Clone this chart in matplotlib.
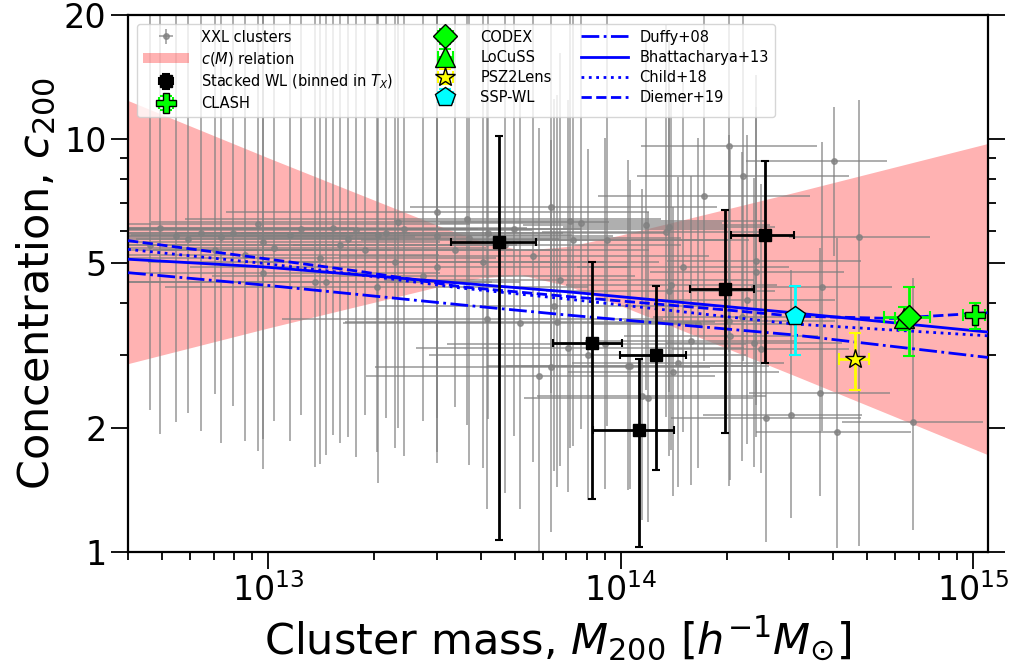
import numpy as np
import matplotlib
matplotlib.use('Agg')
import matplotlib.pyplot as plt
from matplotlib.ticker import FixedLocator, FixedFormatter, NullFormatter

# --- XXL clusters: mass, concentration, errors in dex (lo/hi) ---
xxl_m = np.array([5.48e12, 5.90e12, 6.46e12, 7.33e12, 7.96e12, 9.37e12, 9.68e12, 1.15e13,
                  1.24e13, 1.53e13, 1.68e13, 1.77e13, 2.05e13, 2.16e13, 2.33e13, 2.43e13,
                  3.01e13, 3.00e13, 3.66e13, 4.20e13, 4.99e13, 6.34e13, 7.19e13, 7.30e13,
                  4.06e13, 3.00e13, 2.03e13, 1.36e13, 1.46e13, 9.68e12, 2.75e13,
                  4.62e12, 7.06e12, 8.59e12, 1.04e13, 1.40e13, 1.88e13, 2.29e13, 3.38e13,
                  4.68e13, 4.93e12, 1.60e13, 3.72e13,
                  4.17e13, 5.16e13, 6.47e13, 6.57e13, 7.06e13, 5.85e13, 6.34e13, 6.73e13,
                  5.62e13, 8.05e13, 1.05e14, 9.04e13,
                  2.03e14, 2.22e14, 1.72e14, 4.02e14, 1.18e14, 1.37e14, 1.34e14, 7.71e13,
                  9.16e13, 1.50e14, 2.41e14, 2.42e14, 4.75e14, 1.39e14, 1.37e14, 2.28e14,
                  2.03e14, 2.20e14, 1.65e14, 2.04e14, 1.58e14, 2.39e14, 2.49e14, 3.71e14,
                  1.06e14, 1.45e14, 1.41e14, 1.15e14, 1.19e14, 3.66e14, 2.58e14, 3.04e14,
                  4.10e14, 6.73e14])
xxl_c = np.array([5.83, 5.72, 5.94, 5.81, 5.94, 6.23, 5.65, 5.86,
                  6.05, 6.09, 5.72, 6.03, 5.86, 5.94, 6.30, 6.05,
                  6.66, 5.83, 6.42, 5.92, 6.05, 6.84, 6.35, 5.70,
                  5.04, 4.91, 4.39, 4.52, 4.52, 4.73, 4.65,
                  5.54, 5.39, 5.24, 5.45, 5.16, 5.39, 5.04, 5.39,
                  5.54, 6.10, 5.54, 5.77,
                  3.66, 3.59, 3.95, 3.61, 3.12, 2.67, 2.81, 4.56,
                  5.21, 3.00, 2.82, 3.19,
                  9.63, 8.16, 7.29, 8.87, 6.20, 6.14, 5.97, 6.28,
                  5.70, 4.91, 5.07, 4.76, 5.81, 4.44, 4.30, 4.08,
                  3.63, 3.71, 3.57, 3.34, 3.25, 3.20, 3.10, 4.39,
                  2.83, 2.87, 2.73, 2.39, 2.36, 2.43, 2.11, 2.15,
                  1.95, 2.06])
xxl_dm_lo = np.array([0.6, 0.5, 0.7, 0.6, 0.5, 0.8, 0.6, 0.7,
                      0.6, 0.7, 0.6, 0.8, 0.7, 0.6, 0.7, 0.8,
                      0.6, 0.7, 0.8, 0.7, 0.6, 0.40, 0.5, 0.6,
                      0.65, 0.7, 0.6, 0.7, 0.6, 0.7, 0.6,
                      0.5, 0.6, 0.7, 0.6, 0.7, 0.6, 0.7, 0.6,
                      0.6, 0.6, 0.65, 0.6,
                      0.58, 0.5, 0.5, 0.6, 0.43, 0.49, 0.5, 0.5,
                      0.55, 0.45, 0.4, 0.45,
                      0.25, 0.3, 0.3, 0.25, 0.35, 0.3, 0.35, 0.4,
                      0.4, 0.3, 0.25, 0.3, 0.2, 0.3, 0.35, 0.25,
                      0.3, 0.25, 0.3, 0.3, 0.3, 0.25, 0.25, 0.2,
                      0.35, 0.3, 0.3, 0.3, 0.35, 0.2, 0.27, 0.25,
                      0.23, 0.2])
xxl_dm_hi = np.array([0.5, 0.6, 0.5, 0.55, 0.5, 0.6, 0.5, 0.6,
                      0.5, 0.55, 0.6, 0.5, 0.55, 0.5, 0.6, 0.5,
                      0.6, 0.5, 0.55, 0.5, 0.6, 0.47, 0.55, 0.5,
                      0.5, 0.55, 0.6, 0.5, 0.55, 0.5, 0.6,
                      0.6, 0.5, 0.55, 0.6, 0.5, 0.55, 0.6, 0.55,
                      0.5, 0.55, 0.5, 0.6,
                      0.5, 0.5, 0.5, 0.45, 0.5, 0.5, 0.45, 0.55,
                      0.5, 0.45, 0.4, 0.4,
                      0.25, 0.3, 0.3, 0.15, 0.35, 0.3, 0.3, 0.4,
                      0.35, 0.3, 0.3, 0.25, 0.2, 0.3, 0.3, 0.25,
                      0.3, 0.3, 0.3, 0.25, 0.3, 0.25, 0.25, 0.2,
                      0.35, 0.3, 0.3, 0.35, 0.3, 0.2, 0.27, 0.2,
                      0.21, 0.2])
xxl_dc_lo = np.array([0.45, 0.42, 0.48, 0.5, 0.42, 0.55, 0.55, 0.5,
                      0.45, 0.5, 0.48, 0.55, 0.6, 0.45, 0.5, 0.55,
                      0.5, 0.55, 0.5, 0.45, 0.5, 0.45, 0.55, 0.5,
                      0.5, 0.45, 0.4, 0.45, 0.42, 0.4, 0.35,
                      0.4, 0.35, 0.45, 0.42, 0.5, 0.4, 0.45, 0.38,
                      0.6, 0.5, 0.48, 0.55,
                      0.46, 0.45, 0.4, 0.4, 0.35, 0.43, 0.4, 0.45,
                      0.5, 0.35, 0.3, 0.35,
                      0.5, 0.45, 0.4, 0.23, 0.4, 0.4, 0.45, 0.5,
                      0.45, 0.4, 0.35, 0.4, 0.75, 0.4, 0.4, 0.35,
                      0.4, 0.35, 0.35, 0.35, 0.35, 0.3, 0.3, 0.35,
                      0.3, 0.3, 0.3, 0.3, 0.3, 0.25, 0.3, 0.25,
                      0.28, 0.26])
xxl_dc_hi = np.array([0.7, 0.75, 0.7, 0.8, 0.7, 0.65, 0.8, 0.7,
                      0.7, 0.65, 0.8, 0.7, 0.75, 0.7, 0.6, 0.7,
                      0.6, 0.75, 0.6, 0.7, 0.65, 0.55, 0.6, 0.7,
                      0.75, 0.8, 0.85, 0.8, 0.85, 0.8, 0.8,
                      0.75, 0.8, 0.8, 0.75, 0.8, 0.8, 0.8, 0.75,
                      0.7, 0.7, 0.75, 0.7,
                      0.55, 0.55, 0.5, 0.55, 0.6, 0.6, 0.55, 0.55,
                      0.6, 0.5, 0.5, 0.5,
                      0.35, 0.4, 0.45, 0.13, 0.45, 0.45, 0.5, 0.55,
                      0.55, 0.45, 0.45, 0.4, 0.33, 0.45, 0.5, 0.4,
                      0.45, 0.4, 0.45, 0.45, 0.4, 0.4, 0.4, 0.35,
                      0.45, 0.45, 0.4, 0.5, 0.45, 0.35, 0.4, 0.35,
                      0.47, 0.35])

# --- c(M) relation band ---
band_m = np.array([4.0e12, 1.0e13, 3.16e13, 3.98e13, 5.22e13, 7.08e13, 1.0e14, 3.16e14, 1.1e15])
band_hi = np.array([12.41, 9.01, 6.09, 5.68, 5.38, 5.50, 5.86, 7.46, 9.77])
band_lo = np.array([2.86, 3.49, 4.43, 4.61, 4.69, 4.41, 3.95, 2.66, 1.72])

# --- stacked WL (binned in T_X) ---
wl_m = np.array([4.51e13, 8.26e13, 1.122e14, 1.26e14, 1.97e14, 2.57e14])
wl_m_lo = np.array([3.30e13, 6.41e13, 8.32e13, 9.95e13, 1.57e14, 2.05e14])
wl_m_hi = np.array([5.73e13, 1.01e14, 1.416e14, 1.53e14, 2.38e14, 3.10e14])
wl_c = np.array([5.63, 3.20, 1.975, 3.00, 4.34, 5.87])
wl_c_lo = np.array([1.07, 1.344, 1.027, 1.58, 1.945, 2.875])
wl_c_hi = np.array([10.2, 5.05, 2.93, 4.41, 6.74, 8.88])

# --- other samples: M, M_lo, M_hi, c, c_lo, c_hi ---
clash = [1.01e15, 9.37e14, 1.08e15, 3.75, 3.46, 4.02]
codex = [6.58e14, 5.57e14, 7.55e14, 3.70, 2.99, 4.38]
locuss = [6.34e14, 6.0e14, 6.7e14, 3.68, 3.45, 3.93]
psz2 = [4.60e14, 4.15e14, 5.07e14, 2.93, 2.47, 3.39]
sspwl = [3.12e14, 3.02e14, 3.22e14, 3.72, 3.00, 4.41]

# --- model c-M relations ---
rel_m = np.array([4.0e12, 9.55e12, 1.83e13, 3.52e13, 7.05e13, 3.06e14, 1.1e15])
duffy = np.array([4.75, 4.44, 4.20, 3.97, 3.75, 3.36, 2.96])
bhatt = np.array([5.12, 4.91, 4.69, 4.48, 4.27, 3.80, 3.41])
child = np.array([5.41, 5.01, 4.69, 4.36, 4.10, 3.57, 3.34])
diemer_m = np.array([4.0e12, 9.55e12, 1.83e13, 3.52e13, 7.05e13, 1.98e14, 3.06e14, 5.87e14, 1.1e15])
diemer = np.array([5.68, 5.15, 4.78, 4.39, 4.16, 3.86, 3.73, 3.68, 3.80])


def asym(v, lo, hi):
    return np.array([[v - lo], [hi - v]]) if np.ndim(v) == 0 else np.array([v - lo, hi - v])


fig = plt.figure(figsize=(10.17, 6.69), dpi=100)
ax = fig.add_axes([0.1259, 0.1749, 0.8456, 0.8027])
ax.set_xscale('log')
ax.set_yscale('log')

band = ax.fill_between(band_m, band_lo, band_hi, color='r', alpha=0.3, lw=0, zorder=1)

xerr = [xxl_m * (1 - 10 ** -xxl_dm_lo), xxl_m * (10 ** xxl_dm_hi - 1)]
yerr = [xxl_c * (1 - 10 ** -xxl_dc_lo), xxl_c * (10 ** xxl_dc_hi - 1)]
h_xxl = ax.errorbar(xxl_m, xxl_c, xerr=xerr, yerr=yerr, fmt='o', color='grey', ms=4,
                    elinewidth=1.2, alpha=0.75, zorder=2)

l_duffy, = ax.plot(rel_m, duffy, 'b-.', lw=2, zorder=3)
l_bhatt, = ax.plot(rel_m, bhatt, 'b-', lw=2, zorder=3)
l_child, = ax.plot(rel_m, child, 'b:', lw=2, zorder=3)
l_diemer, = ax.plot(diemer_m, diemer, 'b--', lw=2, zorder=3)

h_wl = ax.errorbar(wl_m, wl_c, xerr=asym(wl_m, wl_m_lo, wl_m_hi), yerr=asym(wl_c, wl_c_lo, wl_c_hi),
                   fmt='s', color='k', ms=9, elinewidth=2, capsize=3, capthick=1.5, zorder=5)


def plot_sample(d, marker, fc, ecol, ms):
    return ax.errorbar([d[0]], [d[3]], xerr=asym(d[0], d[1], d[2]), yerr=asym(d[3], d[4], d[5]),
                       fmt=marker, mfc=fc, mec='k', ecolor=ecol, ms=ms, elinewidth=2,
                       capsize=4, capthick=1.5, zorder=6)


h_sspwl = plot_sample(sspwl, 'p', 'cyan', 'cyan', 15)
h_psz2 = plot_sample(psz2, '*', 'yellow', 'yellow', 15)
h_locuss = plot_sample(locuss, '^', 'lime', 'lime', 14)
h_codex = plot_sample(codex, 'D', 'lime', 'lime', 12)
h_clash = plot_sample(clash, 'P', 'lime', 'lime', 15)

ax.set_xlim(4e12, 1.1e15)
ax.set_ylim(1, 20)

yt = [1, 2, 5, 10, 20]
ax.yaxis.set_major_locator(FixedLocator(yt))
ax.yaxis.set_major_formatter(FixedFormatter([str(v) for v in yt]))
ax.yaxis.set_minor_locator(FixedLocator([3, 4, 6, 7, 8, 9]))
ax.yaxis.set_minor_formatter(NullFormatter())

ax.tick_params(axis='both', which='major', labelsize=24, length=12, width=1.3)
ax.tick_params(axis='both', which='minor', length=6, width=1.3)
ax.tick_params(axis='y', which='both', right=True, labelright=False)
for s in ax.spines.values():
    s.set_linewidth(1.6)

ax.set_xlabel(r'Cluster mass, $M_{200}$ $[h^{-1}M_{\odot}]$', fontsize=31)
ax.set_ylabel(r'Concentration, $c_{200}$', fontsize=31)

handles = [h_xxl, band, h_wl, h_clash, h_codex, h_locuss, h_psz2, h_sspwl,
           l_duffy, l_bhatt, l_child, l_diemer]
labels = ['XXL clusters', r'$c(M)$ relation', r'Stacked WL (binned in $T_X$)', 'CLASH',
          'CODEX', 'LoCuSS', 'PSZ2Lens', 'SSP-WL',
          'Duffy+08', 'Bhattacharya+13', 'Child+18', 'Diemer+19']
ax.legend(handles, labels, ncol=3, loc='upper left', fontsize=10.5, framealpha=0.8,
          labelspacing=0.35, columnspacing=2.0, handlelength=3.2, borderaxespad=0.6)

fig.savefig('out.png', dpi=100)
